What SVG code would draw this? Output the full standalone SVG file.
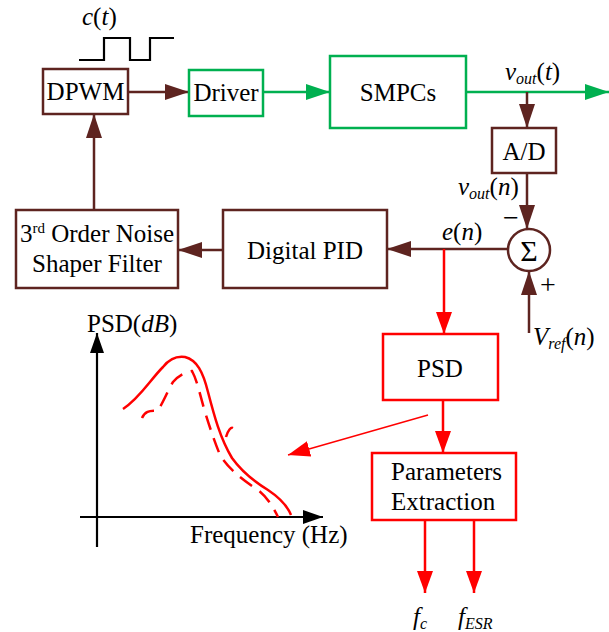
<svg xmlns="http://www.w3.org/2000/svg" width="609" height="632" viewBox="0 0 609 632" font-family="'Liberation Serif', 'Times New Roman', serif">
<defs>
<style>
text{fill:#000}
.lbl{font-size:25px}
.it{font-style:italic}
.bb{fill:#fff;stroke:#5E2420;stroke-width:2.5}
.gb{fill:#fff;stroke:#00B050;stroke-width:2.5}
.rb{fill:#fff;stroke:#FF0000;stroke-width:2.5}
.bl{stroke:#5E2420;stroke-width:2.5;fill:none}
.gl{stroke:#00B050;stroke-width:2.5;fill:none}
.rl{stroke:#FF0000;stroke-width:2.5;fill:none}
.kl{stroke:#000;stroke-width:2.2;fill:none}
</style>
<marker id="ab" markerUnits="userSpaceOnUse" markerWidth="24" markerHeight="16" refX="24" refY="8" orient="auto"><path d="M0,0 L24,8 L0,16 Z" fill="#5E2420"/></marker>
<marker id="ag" markerUnits="userSpaceOnUse" markerWidth="24" markerHeight="16" refX="24" refY="8" orient="auto"><path d="M0,0 L24,8 L0,16 Z" fill="#00B050"/></marker>
<marker id="ar" markerUnits="userSpaceOnUse" markerWidth="22" markerHeight="16" refX="22" refY="8" orient="auto"><path d="M0,0 L22,8 L0,16 Z" fill="#FF0000"/></marker>
<marker id="ak" markerUnits="userSpaceOnUse" markerWidth="20" markerHeight="14" refX="20" refY="7" orient="auto"><path d="M0,0 L20,7 L0,14 Z" fill="#000"/></marker>
</defs>
<rect width="609" height="632" fill="#fff"/>

<g id="connectors">
<line class="bl" x1="128" y1="92" x2="189" y2="92" marker-end="url(#ab)"/>
<line class="gl" x1="263" y1="92" x2="330" y2="92" marker-end="url(#ag)"/>
<line class="gl" x1="466" y1="92" x2="609" y2="92" marker-end="url(#ag)"/>
<line class="bl" x1="527" y1="92" x2="527" y2="128" marker-end="url(#ab)"/>
<line class="bl" x1="527" y1="173" x2="527" y2="229" marker-end="url(#ab)"/>
<line class="bl" x1="529" y1="333" x2="529" y2="271" marker-end="url(#ab)"/>
<line class="bl" x1="508" y1="249" x2="387" y2="249" marker-end="url(#ab)"/>
<line class="bl" x1="223" y1="250" x2="178" y2="250" marker-end="url(#ab)"/>
<line class="bl" x1="94" y1="210" x2="94" y2="114" marker-end="url(#ab)"/>
<line class="rl" x1="444" y1="249" x2="444" y2="334" marker-end="url(#ar)"/>
<line class="rl" x1="443" y1="400" x2="443" y2="453" marker-end="url(#ar)"/>
<line class="rl" x1="425" y1="520" x2="425" y2="593" marker-end="url(#ar)"/>
<line class="rl" x1="474" y1="520" x2="474" y2="593" marker-end="url(#ar)"/>
<line stroke="#FF0000" stroke-width="1.5" x1="428" y1="415" x2="288" y2="455" marker-end="url(#ar)"/>
</g>

<g id="clock">
<path class="kl" d="M79,60 H104 V38 H130 V60 H150 V38 H174"/>
<text class="lbl" x="82" y="25"><tspan class="it">c</tspan>(<tspan class="it">t</tspan>)</text>
</g>

<g id="dpwm"><rect class="bb" x="43" y="69" width="85" height="45"/><text class="lbl" x="85.5" y="100" text-anchor="middle">DPWM</text></g>
<g id="driver"><rect class="gb" x="189" y="70" width="74" height="46"/><text class="lbl" x="226" y="101" text-anchor="middle">Driver</text></g>
<g id="smpcs"><rect class="gb" x="330" y="56" width="136" height="72"/><text class="lbl" x="398" y="101" text-anchor="middle">SMPCs</text></g>
<g id="vout-t"><text class="lbl" x="505" y="80"><tspan class="it">v</tspan><tspan class="it" font-size="16" dy="4">out</tspan><tspan dy="-4">(</tspan><tspan class="it">t</tspan>)</text></g>
<g id="ad"><rect class="bb" x="492" y="128" width="64" height="45"/><text class="lbl" x="524" y="160" text-anchor="middle">A/D</text></g>
<g id="vout-n"><text class="lbl" x="458" y="195"><tspan class="it">v</tspan><tspan class="it" font-size="16" dy="4">out</tspan><tspan dy="-4">(</tspan><tspan class="it">n</tspan>)</text></g>
<g id="sum">
<circle cx="529" cy="250" r="21" fill="#fff" stroke="#5E2420" stroke-width="2.5"/>
<text x="529" y="261" font-size="30" text-anchor="middle">Σ</text>
<text x="503" y="227" font-size="28">−</text>
<text x="540" y="294" font-size="28">+</text>
</g>
<g id="vref"><text class="lbl" x="533" y="345"><tspan class="it">V</tspan><tspan class="it" font-size="16" dy="4">ref</tspan><tspan dy="-4">(</tspan><tspan class="it">n</tspan>)</text></g>
<g id="en"><text class="lbl" x="442" y="240"><tspan class="it">e</tspan>(<tspan class="it">n</tspan>)</text></g>
<g id="pid"><rect class="bb" x="223" y="210" width="164" height="78"/><text class="lbl" x="305" y="259" text-anchor="middle">Digital PID</text></g>
<g id="noise"><rect class="bb" x="16" y="210" width="162" height="78"/>
<text class="lbl" x="97" y="242" text-anchor="middle">3<tspan font-size="15" dy="-9">rd</tspan><tspan dy="9"> Order Noise</tspan></text>
<text class="lbl" x="97" y="272" text-anchor="middle">Shaper Filter</text></g>
<g id="psd"><rect class="rb" x="383" y="334" width="115" height="66"/><text class="lbl" x="440" y="377" text-anchor="middle">PSD</text></g>
<g id="params"><rect class="rb" x="372" y="453" width="144" height="67"/>
<text class="lbl" x="391" y="480">Parameters</text><text class="lbl" x="391" y="510">Extraction</text></g>
<g id="fc"><text class="lbl it" x="413" y="625">f<tspan font-size="16" dy="4">c</tspan></text></g>
<g id="fesr"><text class="lbl it" x="458" y="625">f<tspan font-size="16" dy="4">ESR</tspan></text></g>

<g id="plot">
<line class="kl" x1="97" y1="547" x2="97" y2="333" marker-end="url(#ak)"/>
<line class="kl" x1="80" y1="517" x2="323" y2="517" marker-end="url(#ak)"/>
<text class="lbl" x="87" y="332">PSD(<tspan class="it">dB</tspan>)</text>
<text class="lbl" x="190" y="543">Frequency (Hz)</text>
<path class="rl" d="M123,409 C140,398 150,380 163,367 C170,358 178,356 185,357 C197,360 203,372 208,392 C214,415 220,438 232,458 C242,472 255,482 268,490 C280,498 287,505 291,515"/>
<path class="rl" stroke-dasharray="15,9" d="M142,418 C146,408 155,412 158,410 C163,403 168,390 173,382 C178,376 185,372 192,371 C197,380 200,395 205,412 C210,428 214,440 220,455 C228,468 240,478 258,490 C266,496 272,505 278,517"/>
<path class="rl" d="M226,437 C228,430 231,427 233,428"/>
</g>
</svg>
